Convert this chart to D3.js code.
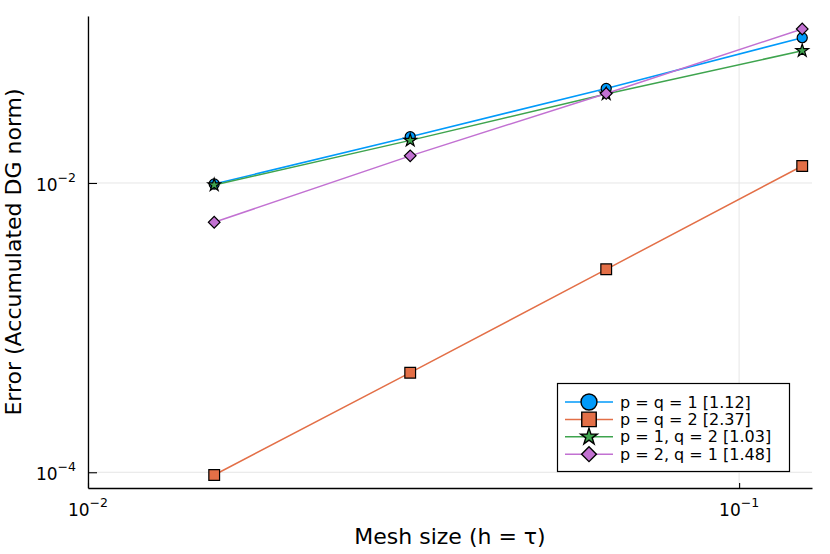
<!DOCTYPE html>
<html>
<head>
<meta charset="utf-8">
<script src="https://cdn.jsdelivr.net/npm/d3@7"></script>
<style>
  body { margin: 0; background: #fff; }
  text { font-family: "DejaVu Sans", sans-serif; fill: #000; }
</style>
</head>
<body>
<svg class="svg" width="830" height="554"></svg>
<script>
// mesh sizes h = tau
const meshSizes = [0.015625, 0.03125, 0.0625, 0.125];

const seriesNames = [
    'p = q = 1 [1.12]',
    'p = q = 2 [2.37]',
    'p = 1, q = 2 [1.03]',
    'p = 2, q = 1 [1.48]'
];
const errPQ1 = [0.00984, 0.0209, 0.0450, 0.1010];
const errPQ2 = [0.0000958, 0.000488, 0.00253, 0.0131];
const errP1Q2 = [0.00969, 0.0197, 0.0412, 0.0821];
const errP2Q1 = [0.00535, 0.0154, 0.0416, 0.1160];

const xTicks = [0.01, 0.1];
const xTickExp = ['\u22122', '\u22121'];
const yTicks = [0.01, 0.0001];
const yTickExp = ['\u22122', '\u22124'];

function drawChart() {
    const width = 830;
    const height = 554;
    const padding = { top: 16, right: 18, down: 66, left: 88 };

    const colors = ['#009afa', '#e36f47', '#3ea44e', '#c271d2'];
    const shapes = ['circle', 'square', 'star', 'diamond'];
    const allErrors = [errPQ1, errPQ2, errP1Q2, errP2Q1];

    const svg = d3.select('.svg')
        .attr('viewBox', `0 0 ${width} ${height}`);

    /* X SCALE */
    const xScale = d3.scaleLog()
        .domain([0.01, 0.1294])
        .range([padding.left, width - padding.right]);

    /* Y SCALE */
    const yScale = d3.scaleLog()
        .domain([0.00007785, 0.1427])
        .range([height - padding.down, padding.top]);

    const plotBottom = height - padding.down;

    /* grid */
    svg.append('g').selectAll('line')
        .data(xTicks).enter()
        .append('line')
        .attr('x1', d => xScale(d)).attr('x2', d => xScale(d))
        .attr('y1', padding.top).attr('y2', plotBottom)
        .attr('stroke', '#e6e6e6').attr('stroke-width', 1);
    svg.append('g').selectAll('line')
        .data(yTicks).enter()
        .append('line')
        .attr('x1', padding.left).attr('x2', width - padding.right)
        .attr('y1', d => yScale(d)).attr('y2', d => yScale(d))
        .attr('stroke', '#e6e6e6').attr('stroke-width', 1);

    /* axes */
    const xAxis = d3.axisBottom(xScale)
        .tickValues(xTicks)
        .tickSizeInner(-5)
        .tickSizeOuter(0)
        .tickFormat('');
    const gx = svg.append('g')
        .attr('id', 'x-axis')
        .attr('transform', `translate(0, ${plotBottom})`)
        .call(xAxis);

    const yAxis = d3.axisLeft(yScale)
        .tickValues(yTicks)
        .tickSizeInner(-9)
        .tickSizeOuter(0)
        .tickFormat('');
    const gy = svg.append('g')
        .attr('id', 'y-axis')
        .attr('transform', `translate(${padding.left}, 0)`)
        .call(yAxis);

    [gx, gy].forEach(g => {
        g.select('.domain').attr('stroke', '#000').attr('stroke-width', 1.3);
        g.selectAll('.tick line').attr('stroke', '#000').attr('stroke-width', 1.1);
    });

    /* tick labels with exponents */
    xTicks.forEach((t, i) => {
        const label = svg.append('text')
            .attr('x', xScale(t))
            .attr('y', plotBottom + 28)
            .attr('text-anchor', 'middle')
            .style('font-size', '17px');
        label.append('tspan').text('10');
        label.append('tspan').attr('dy', -9).style('font-size', '12.5px').text(xTickExp[i]);
    });
    yTicks.forEach((t, i) => {
        const label = svg.append('text')
            .attr('x', padding.left - 12)
            .attr('y', yScale(t) + 8)
            .attr('text-anchor', 'end')
            .style('font-size', '17px');
        label.append('tspan').text('10');
        label.append('tspan').attr('dy', -9).style('font-size', '12.5px').text(yTickExp[i]);
    });

    /* axis titles */
    svg.append('text')
        .attr('x', (padding.left + width - padding.right) / 2)
        .attr('y', 544)
        .attr('text-anchor', 'middle')
        .style('font-size', '22px')
        .text('Mesh size (h = \u03c4)');
    svg.append('text')
        .attr('transform', `translate(21, ${(padding.top + plotBottom) / 2}) rotate(-90)`)
        .attr('text-anchor', 'middle')
        .style('font-size', '22px')
        .text('Error (Accumulated DG norm)');

    /* marker shapes */
    const markerPath = (shape, big) => {
        if (shape === 'circle') return d3.symbol(d3.symbolCircle, big ? 200 : 80)();
        if (shape === 'square') return d3.symbol(d3.symbolSquare, big ? 210 : 115)();
        if (shape === 'star') return d3.symbol(d3.symbolStar, big ? 85 : 50)();
        return d3.symbol(d3.symbolSquare, big ? 110 : 68)();
    };
    const markerRotate = shape => shape === 'diamond' ? ' rotate(45)' : '';

    const line = d3.line()
        .x((d, i) => xScale(meshSizes[i]))
        .y(d => yScale(d));

    /* series */
    allErrors.forEach((errs, k) => {
        const g = svg.append('g').attr('class', 'series');
        g.append('path')
            .datum(errs)
            .attr('d', line)
            .attr('fill', 'none')
            .attr('stroke', colors[k])
            .attr('stroke-width', 1.5);
        g.selectAll('path.marker')
            .data(errs).enter()
            .append('path')
            .attr('class', 'marker')
            .attr('d', markerPath(shapes[k], false))
            .attr('transform', (d, i) => `translate(${xScale(meshSizes[i])}, ${yScale(d)})${markerRotate(shapes[k])}`)
            .attr('fill', colors[k])
            .attr('stroke', '#000')
            .attr('stroke-width', 1.2);
    });

    /* LEGEND */
    const legend = svg.append('g').attr('id', 'legend');
    legend.append('rect')
        .attr('x', 557.5).attr('y', 383.5)
        .attr('width', 232).attr('height', 88)
        .attr('fill', '#fff')
        .attr('stroke', '#000')
        .attr('stroke-width', 1.2);
    seriesNames.forEach((name, k) => {
        const cy = 402 + k * 17.4;
        legend.append('line')
            .attr('x1', 565).attr('x2', 613)
            .attr('y1', cy).attr('y2', cy)
            .attr('stroke', colors[k])
            .attr('stroke-width', 1.5);
        legend.append('path')
            .attr('d', markerPath(shapes[k], true))
            .attr('transform', `translate(589, ${cy})${markerRotate(shapes[k])}`)
            .attr('fill', colors[k])
            .attr('stroke', '#000')
            .attr('stroke-width', 1.4);
        legend.append('text')
            .attr('x', 620)
            .attr('y', cy + 5.5)
            .style('font-size', '16px')
            .text(name);
    });
}

document.addEventListener('DOMContentLoaded', () => drawChart());
</script>
</body>
</html>
